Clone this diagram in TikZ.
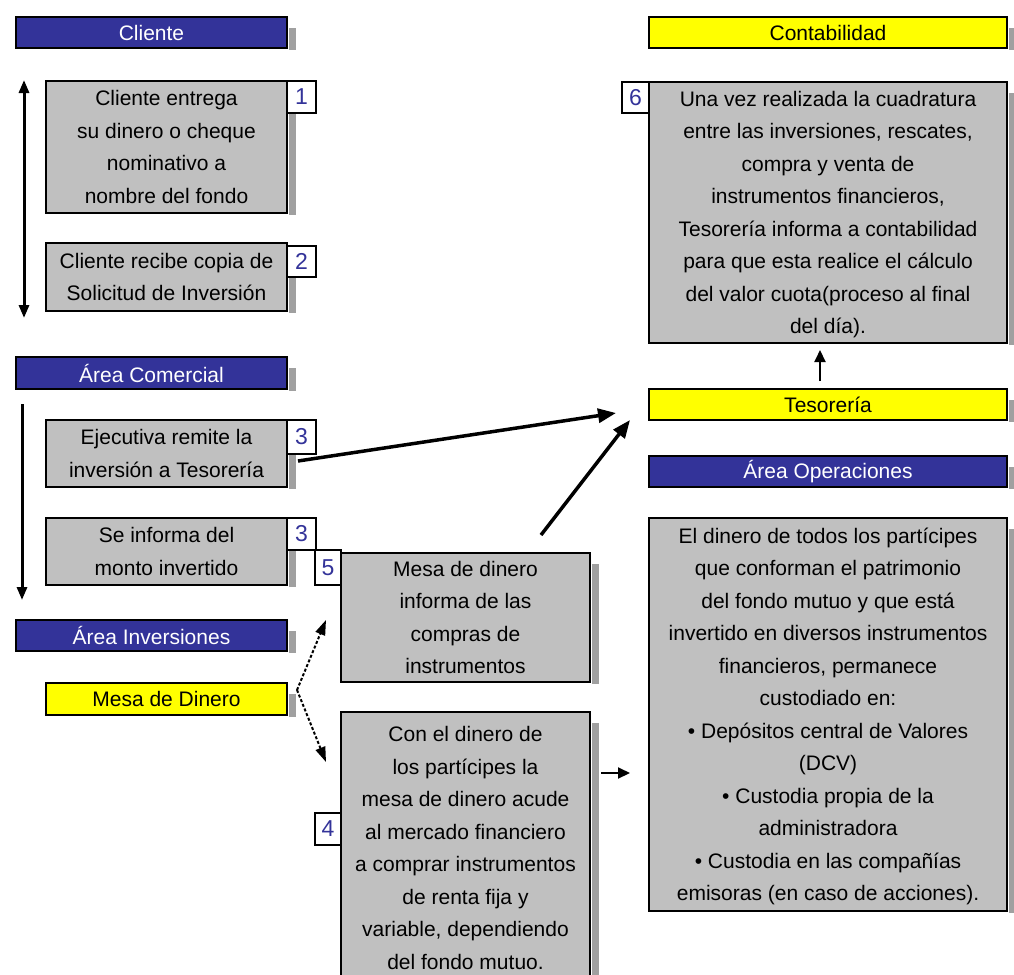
\documentclass[tikz,border=0pt]{standalone}
\usepackage{fontspec}
\setmainfont{Liberation Sans}
\usetikzlibrary{arrows.meta}
\definecolor{hblue}{RGB}{51,51,153}
\definecolor{hyel}{RGB}{255,255,0}
\definecolor{bgray}{RGB}{192,192,192}
\definecolor{shc}{RGB}{160,160,160}
\newcommand\shad[1]{\fill[shc] ([xshift=1.5pt,yshift=-11pt]#1.north east) rectangle ([xshift=9pt,yshift=-2pt]#1.south east);}
\begin{document}
\begin{tikzpicture}[x=1pt,y=-1pt,
  every node/.style={font=\fontsize{21}{32.5}\selectfont, inner sep=0pt, outer sep=0pt, align=center},
  hdrb/.style={draw=black, line width=2pt, fill=hblue, text=white, anchor=north west},
  hdry/.style={draw=black, line width=2pt, fill=hyel, text=black, anchor=north west},
  gbox/.style={draw=black, line width=2pt, fill=bgray, anchor=north west, text depth=-3pt},
  numb/.style={draw=black, line width=1.5pt, fill=white, text=hblue, anchor=north west, font=\fontsize{23}{26}\selectfont},
  bigarr/.style={-{Triangle[length=18pt,width=14pt]}, line width=3.5pt},
  varr/.style={-{Triangle[length=13pt,width=10pt]}, line width=3pt},
  smarr/.style={-{Triangle[length=12pt,width=11pt]}, line width=2pt},
  dasharr/.style={-{Triangle[length=15pt,width=10pt]}, line width=2pt, densely dashed}]
\useasboundingbox (0,0) rectangle (1014,974);
\clip (0,0) rectangle (1014,974);
% left column
\node[hdrb, minimum width=271pt, minimum height=31pt] (cli) at (16,17) {Cliente};
\node[gbox, minimum width=241pt, minimum height=132pt] (b1) at (46,81) {Cliente entrega\\su dinero o cheque\\nominativo a\\nombre del fondo};
\node[gbox, minimum width=241pt, minimum height=68pt] (b2) at (46,243) {Cliente recibe copia de\\Solicitud de Inversión};
\node[hdrb, minimum width=271pt, minimum height=32pt] (com) at (16,357) {Área Comercial};
\node[gbox, minimum width=241pt, minimum height=67pt] (b3) at (46,420) {Ejecutiva remite la\\inversión a Tesorería};
\node[gbox, minimum width=241pt, minimum height=67pt] (b3b) at (46,518) {Se informa del\\monto invertido};
\node[hdrb, minimum width=271pt, minimum height=31pt] (inv) at (16,620) {Área Inversiones};
\node[hdry, minimum width=241pt, minimum height=32pt] (mesa) at (46,683) {Mesa de Dinero};
% middle column
\node[gbox, minimum width=249pt, minimum height=129pt] (b5) at (341,553) {Mesa de dinero\\informa de las\\compras de\\instrumentos};
\node[gbox, minimum width=249pt, minimum height=272pt] (b4) at (341,712) {Con el dinero de\\los partícipes la\\mesa de dinero acude\\al mercado financiero\\a comprar instrumentos\\de renta fija y\\variable, dependiendo\\del fondo mutuo.};
% right column
\node[hdry, minimum width=358pt, minimum height=31pt] (cont) at (649,17) {Contabilidad};
\node[gbox, minimum width=358pt, minimum height=261pt] (b6) at (649,82) {Una vez realizada la cuadratura\\entre las inversiones, rescates,\\compra y venta de\\instrumentos financieros,\\Tesorería informa a contabilidad\\para que esta realice el cálculo\\del valor cuota(proceso al final\\del día).};
\node[hdry, minimum width=358pt, minimum height=31pt] (tes) at (649,389) {Tesorería};
\node[hdrb, minimum width=358pt, minimum height=31pt] (ope) at (649,456) {Área Operaciones};
\node[gbox, minimum width=358pt, minimum height=393pt] (bop) at (649,518) {El dinero de todos los partícipes\\que conforman el patrimonio\\del fondo mutuo y que está\\invertido en diversos instrumentos\\financieros, permanece\\custodiado en:\\• Depósitos central de Valores\\(DCV)\\• Custodia propia de la\\administradora\\• Custodia en las compañías\\emisoras (en caso de acciones).};
% shadows
\foreach \n in {cli,b1,b2,com,b3,b3b,inv,mesa,b5,b4,cont,b6,tes,ope,bop} {\shad{\n}}
% number boxes
\node[numb, minimum width=29pt, minimum height=32pt] (n1) at (287,81) {1};
\node[numb, minimum width=29pt, minimum height=31pt] (n2) at (287,246) {2};
\node[numb, minimum width=29pt, minimum height=34pt] (n3) at (287,420) {3};
\node[numb, minimum width=29pt, minimum height=32pt] (n3b) at (287,518) {3};
\node[numb, minimum width=26pt, minimum height=35pt] (n5) at (315,550) {5};
\node[numb, minimum width=26pt, minimum height=32pt] (n4) at (315,813) {4};
\node[numb, minimum width=27pt, minimum height=31pt] (n6) at (622,82) {6};
% connectors
\coordinate (ct1) at (24,80);
\coordinate (cb1) at (24,318);
\draw[varr, {Triangle[length=13pt,width=10pt]}-{Triangle[length=13pt,width=10pt]}] (ct1) -- (cb1);
\coordinate (ct2) at (22,404);
\coordinate (cb2) at (22,600);
\draw[varr] (ct2) -- (cb2);
\coordinate (e1s) at (298,461);
\coordinate (e1t) at (616,413);
\draw[bigarr] (e1s) -- (e1t);
\coordinate (e2s) at (541,535);
\coordinate (e2t) at (630,420);
\draw[bigarr] (e2s) -- (e2t);
\coordinate (tup) at (820,381);
\coordinate (tupe) at (820,350);
\draw[smarr] (tup) -- (tupe);
\coordinate (m1) at (297,690);
\coordinate (mu) at (326,620);
\coordinate (md) at (326,762);
\draw[dasharr] (m1) -- (mu);
\draw[dasharr] (m1) -- (md);
\coordinate (r1s) at (601,773);
\coordinate (r1t) at (630,773);
\draw[smarr] (r1s) -- (r1t);
\end{tikzpicture}
\end{document}
